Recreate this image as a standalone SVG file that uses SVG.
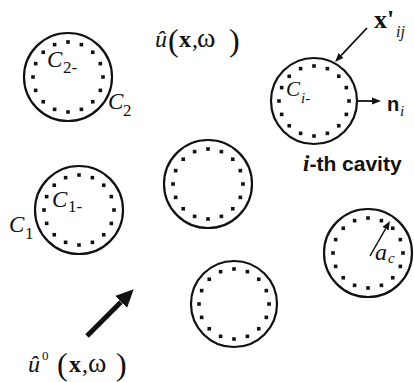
<svg xmlns="http://www.w3.org/2000/svg" xmlns:xlink="http://www.w3.org/1999/xlink" width="414" height="382" viewBox="0 0 414 382">
<style>
.cav{fill:none;stroke:#111;stroke-width:2.2}
.dot{fill:#111}
.m{font-family:"Liberation Serif","Times New Roman",serif;fill:#111}
.it{font-style:italic}
.bd{font-weight:bold}
.sans{font-family:"Liberation Sans",Arial,sans-serif;font-weight:bold;fill:#111}
.con{stroke:#111;fill:none}
</style>
<defs>
<g id="ring" class="dot">
<rect x="33.2" y="-1.8" width="3.6" height="3.6"/>
<rect x="30.54" y="11.59" width="3.6" height="3.6"/>
<rect x="22.95" y="22.95" width="3.6" height="3.6"/>
<rect x="11.59" y="30.54" width="3.6" height="3.6"/>
<rect x="-1.8" y="33.2" width="3.6" height="3.6"/>
<rect x="-15.19" y="30.54" width="3.6" height="3.6"/>
<rect x="-26.55" y="22.95" width="3.6" height="3.6"/>
<rect x="-34.14" y="11.59" width="3.6" height="3.6"/>
<rect x="-36.8" y="-1.8" width="3.6" height="3.6"/>
<rect x="-34.14" y="-15.19" width="3.6" height="3.6"/>
<rect x="-26.55" y="-26.55" width="3.6" height="3.6"/>
<rect x="-15.19" y="-34.14" width="3.6" height="3.6"/>
<rect x="-1.8" y="-36.8" width="3.6" height="3.6"/>
<rect x="11.59" y="-34.14" width="3.6" height="3.6"/>
<rect x="22.95" y="-26.55" width="3.6" height="3.6"/>
<rect x="30.54" y="-15.19" width="3.6" height="3.6"/>
</g>
<marker id="ah" viewBox="0 -5 10 10" refX="0" refY="0" markerWidth="10" markerHeight="10" markerUnits="userSpaceOnUse" orient="auto">
<path d="M0,-3.5 L9,0 L0,3.5 z" fill="#111"/>
</marker>
<marker id="big" viewBox="0 -10 20 20" refX="0" refY="0" markerWidth="20" markerHeight="20" markerUnits="userSpaceOnUse" orient="auto">
<path d="M0,-8.5 L18,0 L0,8.5 z" fill="#111"/>
</marker>
</defs>

<g id="cavity-2">
<circle class="cav" cx="68" cy="77" r="44"/>
<use xlink:href="#ring" href="#ring" transform="translate(68,77)"/>
<text class="m it" x="47" y="67" font-size="23">C</text>
<text class="m" x="63" y="73" font-size="17">2-</text>
<text class="m it" x="108" y="109" font-size="23">C</text>
<text class="m" x="123" y="116" font-size="17">2</text>
</g>

<g id="cavity-i">
<circle class="cav" cx="314" cy="101" r="43"/>
<use xlink:href="#ring" href="#ring" transform="translate(314,101)"/>
<text class="m it" x="286" y="96" font-size="21">C</text>
<text class="m it" x="301" y="103" font-size="15">i-</text>
<text x="303" y="171"><tspan class="m it bd" font-size="23">i</tspan><tspan class="sans" font-size="21">-th cavity</tspan></text>
</g>

<g id="cavity-1">
<circle class="cav" cx="79" cy="210" r="44"/>
<use xlink:href="#ring" href="#ring" transform="translate(79,210)"/>
<text class="m it" x="52" y="207" font-size="23">C</text>
<text class="m" x="68" y="212" font-size="17">1-</text>
<text class="m it" x="9" y="232" font-size="23">C</text>
<text class="m" x="25" y="239" font-size="17">1</text>
</g>

<g id="cavity-mid">
<circle class="cav" cx="208" cy="184" r="44"/>
<use xlink:href="#ring" href="#ring" transform="translate(208,184)"/>
</g>

<g id="cavity-bottom">
<circle class="cav" cx="234" cy="304" r="43"/>
<use xlink:href="#ring" href="#ring" transform="translate(234,304)"/>
</g>

<g id="cavity-right">
<circle class="cav" cx="368" cy="253" r="44"/>
<use xlink:href="#ring" href="#ring" transform="translate(368,253)"/>
<text class="m it" x="375" y="260" font-size="24">a</text>
<text class="m it" x="388" y="263" font-size="15">c</text>
</g>

<g id="labels">
<text class="m it" x="155" y="47" font-size="24">û</text>
<text class="m" x="168" y="51" font-size="32">(</text>
<text class="m bd" x="179" y="47" font-size="24">x</text>
<text class="m" x="192" y="47" font-size="24">,</text>
<text class="m" x="197" y="47" font-size="28">ω</text>
<text class="m" x="229" y="51" font-size="32">)</text>

<text class="m it" x="28" y="372" font-size="24">û</text>
<text class="m" x="42" y="360" font-size="13">0</text>
<text class="m" x="57" y="375" font-size="32">(</text>
<text class="m bd" x="69" y="372" font-size="24">x</text>
<text class="m" x="82" y="372" font-size="24">,</text>
<text class="m" x="88" y="372" font-size="28">ω</text>
<text class="m" x="116" y="375" font-size="32">)</text>

<text class="m bd" x="374" y="28" font-size="26">x'</text>
<text class="m it" x="396" y="37" font-size="16">ij</text>

<text class="sans" x="387" y="111" font-size="20">n</text>
<text class="m it" x="400" y="116" font-size="15">i</text>
</g>

<g id="connectors" class="con">
<line x1="367" y1="28" x2="341.2" y2="55.4" stroke-width="1.8" marker-end="url(#ah)"/>
<line x1="358" y1="101" x2="372" y2="101" stroke-width="1.8" marker-end="url(#ah)"/>
<line x1="370" y1="256" x2="385.5" y2="228.8" stroke-width="1.5" marker-end="url(#ah)"/>
<line x1="87" y1="336" x2="121" y2="302" stroke-width="5" marker-end="url(#big)"/>
</g>
</svg>
